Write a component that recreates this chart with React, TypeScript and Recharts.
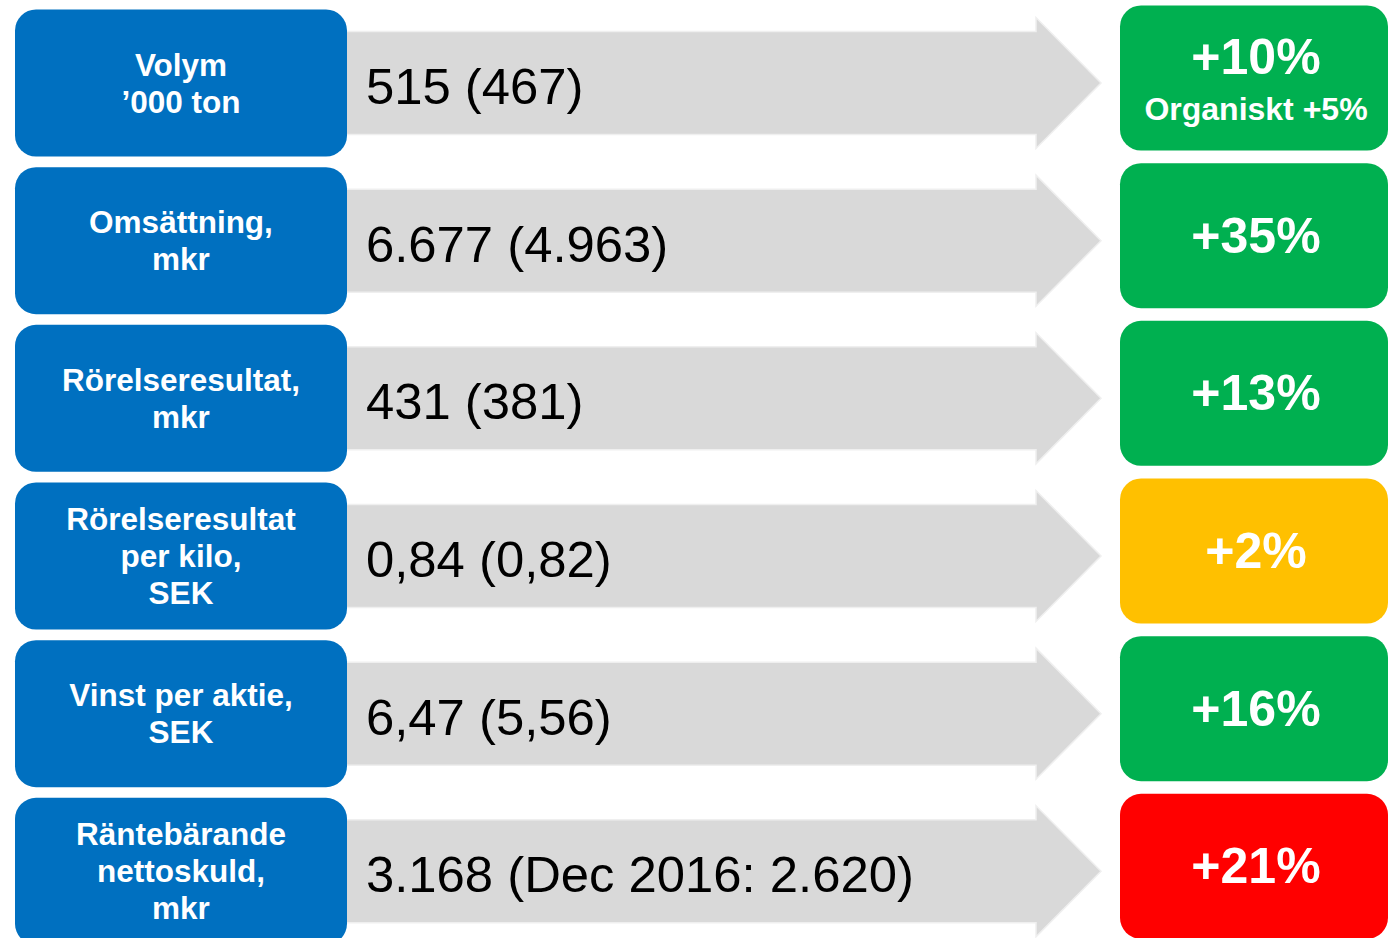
import React from "react";
import { ComposedChart, Bar, XAxis, YAxis } from "recharts";

// ---- data ----
const rowLabels: string[][] = [
  ["Volym", "’000 ton"],
  ["Omsättning,", "mkr"],
  ["Rörelseresultat,", "mkr"],
  ["Rörelseresultat", "per kilo,", "SEK"],
  ["Vinst per aktie,", "SEK"],
  ["Räntebärande", "nettoskuld,", "mkr"],
];
const rowValues: string[] = [
  "515 (467)",
  "6.677 (4.963)",
  "431 (381)",
  "0,84 (0,82)",
  "6,47 (5,56)",
  "3.168 (Dec 2016: 2.620)",
];
const changePct: number[] = [10, 35, 13, 2, 16, 21];
const changeNotes: string[] = ["Organiskt +5%", "", "", "", "", ""];
const changeStatus: string[] = ["positive", "positive", "positive", "neutral", "positive", "negative"];

// ---- styles ----
const STATUS_COLORS: Record<string, string> = {
  positive: "#00B050",
  neutral: "#FFC000",
  negative: "#FF0000",
};
const BLUE = "#0070C0";
const ARROW = "#D9D9D9";
const FONT = "'Liberation Sans', Arial, sans-serif";

const data = rowLabels.map((lines, i) => ({
  key: `row${i}`,
  lines,
  value: rowValues[i],
  change: changePct[i],
  note: changeNotes[i],
  status: changeStatus[i],
}));

const RowShape = (props: any) => {
  const { y, height, payload } = props;
  const c = y + height / 2;
  const lines: string[] = payload.lines;
  const lh = 37;
  const rc = c - 5;
  const arrowPts = [
    [340, c - 51.5],
    [1036, c - 51.5],
    [1036, c - 65.5],
    [1101, c],
    [1036, c + 65.5],
    [1036, c + 51.5],
    [340, c + 51.5],
  ]
    .map((p) => p.join(","))
    .join(" ");
  return (
    <g>
      <polygon points={arrowPts} fill={ARROW} stroke="#EFEFEF" strokeWidth={1.5} />
      <rect x={15} y={c - 73.5} width={332} height={147} rx={21} ry={21} fill={BLUE} />
      {lines.map((t, j) => (
        <text
          key={j}
          x={181}
          y={c + (j - (lines.length - 1) / 2) * lh + 11}
          textAnchor="middle"
          fill="#FFFFFF"
          fontFamily={FONT}
          fontWeight="bold"
          fontSize={31.5}
        >
          {t}
        </text>
      ))}
      <text x={366} y={c + 21} fill="#000000" fontFamily={FONT} fontSize={50.8}>
        {payload.value}
      </text>
      <rect
        x={1120}
        y={rc - 72.5}
        width={268}
        height={145}
        rx={21}
        ry={21}
        fill={STATUS_COLORS[payload.status]}
      />
      <text
        x={1256}
        y={payload.note ? rc - 4.5 : rc + 17}
        textAnchor="middle"
        fill="#FFFFFF"
        fontFamily={FONT}
        fontWeight="bold"
        fontSize={50}
      >
        {`+${payload.change}%`}
      </text>
      {payload.note ? (
        <text
          x={1256}
          y={rc + 41.5}
          textAnchor="middle"
          fill="#FFFFFF"
          fontFamily={FONT}
          fontWeight="bold"
          fontSize={32}
        >
          {payload.note}
        </text>
      ) : null}
    </g>
  );
};

export default function App() {
  return (
    <div
      style={{
        position: "fixed",
        left: 0,
        top: 0,
        width: 1388,
        height: 938,
        overflow: "hidden",
        background: "#FFFFFF",
      }}
    >
      <ComposedChart
        width={1388}
        height={950}
        data={data}
        layout="vertical"
        margin={{ top: 4, right: 0, bottom: 0, left: 0 }}
        barCategoryGap={0}
        barGap={0}
      >
        <XAxis type="number" domain={[0, 100]} hide />
        <YAxis type="category" dataKey="key" hide />
        <Bar dataKey="change" isAnimationActive={false} shape={(p: any) => <RowShape {...p} />} />
      </ComposedChart>
    </div>
  );
}
